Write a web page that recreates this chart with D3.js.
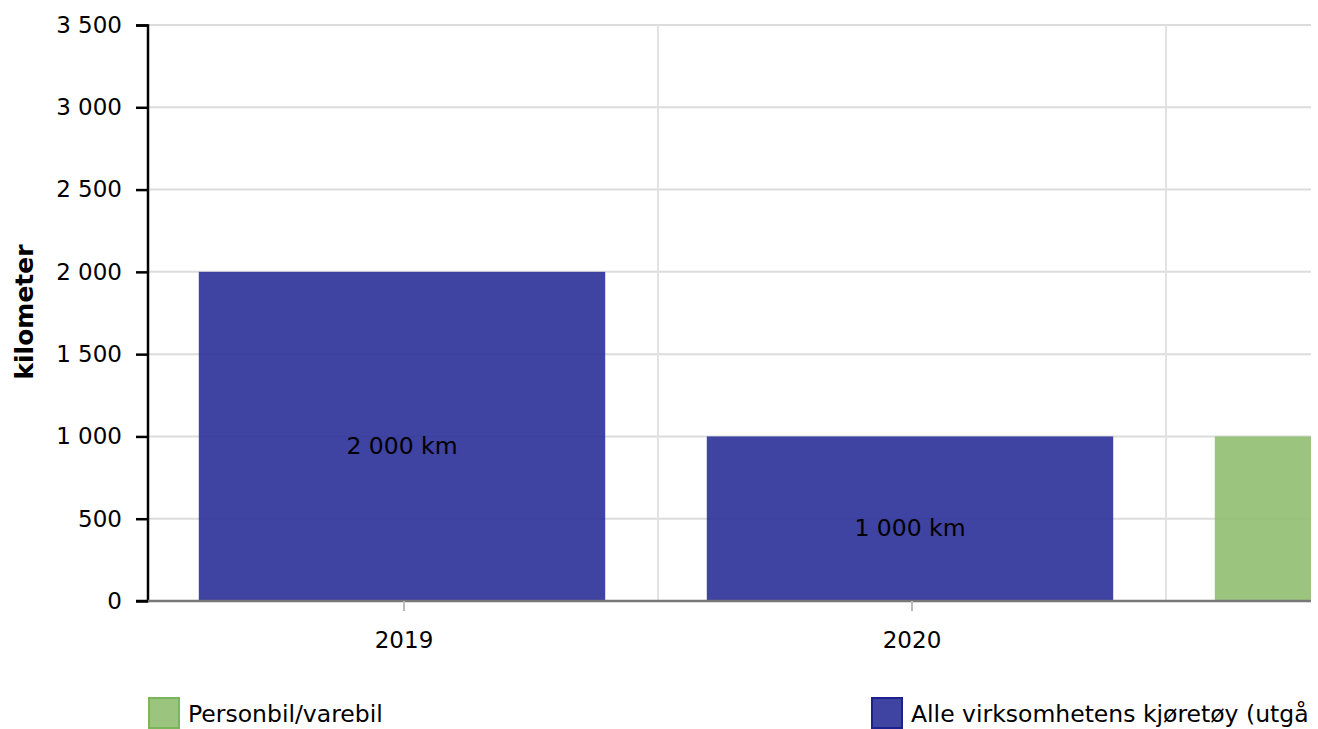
<!DOCTYPE html>
<html>
<head>
<meta charset="utf-8">
<script src="https://cdn.jsdelivr.net/npm/d3@7"></script>
<style>
  body { margin: 0; overflow: hidden; background: #fff; }
  text { font-family: "DejaVu Sans", Verdana, sans-serif; }
</style>
</head>
<body>
<div id="chart"></div>
<script>
// data
var years = ["2019", "2020", "2021"];
var personbil = [null, null, 1000];
var alleKjoretoy = [2000, 1000, null];
var seriesNames = ["Personbil/varebil", "Alle virksomhetens kjøretøy (utgå"];
var yTicks = [0, 500, 1000, 1500, 2000, 2500, 3000, 3500];

var svgWidth = 1318;
var svgHeight = 729;

var margin = { top: 25, left: 148 };
var plotRight = 1311;          // visible end of plot area
var fullWidth = 3 * 508;       // three categories, last one runs off screen
var height = 576;
var plotWidth = plotRight - margin.left;

var colors = { fill: ["#90be71", "#2a2f97"], stroke: ["#7ab55c", "#1c2190"] };

var fmt = function(v) { return d3.format(",")(v).replace(/,/g, " "); };

var svg = d3.select("#chart")
  .append("svg")
  .attr("width", svgWidth)
  .attr("height", svgHeight);

svg.append("defs").append("clipPath")
  .attr("id", "plotclip")
  .append("rect")
  .attr("x", 0).attr("y", -5)
  .attr("width", plotWidth).attr("height", height + 40);

var chartGroup = svg.append("g")
  .attr("transform", `translate(${margin.left}, ${margin.top})`);

var x = d3.scaleBand()
  .domain(years)
  .range([0, fullWidth])
  .paddingInner(0.2)
  .paddingOuter(0.1);

var y = d3.scaleLinear()
  .domain([0, 3500])
  .range([height, 0]);

var plot = chartGroup.append("g").attr("clip-path", "url(#plotclip)");

// horizontal grid
plot.selectAll(".hgrid")
  .data(yTicks.slice(1))
  .enter()
  .append("line")
  .attr("x1", 0).attr("x2", plotWidth)
  .attr("y1", d => y(d)).attr("y2", d => y(d))
  .attr("stroke", "#dcdcdc").attr("stroke-width", 2);

// vertical grid at category boundaries
plot.selectAll(".vgrid")
  .data(years.slice(1))
  .enter()
  .append("line")
  .attr("x1", d => x(d) - x.step() * 0.1 + 2).attr("x2", d => x(d) - x.step() * 0.1 + 2)
  .attr("y1", 0).attr("y2", height)
  .attr("stroke", "#e2e2e2").attr("stroke-width", 2);

// bars
var allSeries = [personbil, alleKjoretoy];
allSeries.forEach(function(vals, si) {
  var rows = years.map((yr, i) => ({ year: yr, value: vals[i] })).filter(d => d.value != null);
  plot.selectAll(".bar" + si)
    .data(rows)
    .enter()
    .append("rect")
    .attr("x", d => x(d.year))
    .attr("y", d => y(d.value))
    .attr("width", x.bandwidth())
    .attr("height", d => height - y(d.value))
    .attr("fill", colors.fill[si])
    .attr("fill-opacity", 0.9);

  // labels only where the bar centre is on screen
  plot.selectAll(".lbl" + si)
    .data(rows.filter(d => x(d.year) + x.bandwidth() / 2 < plotWidth))
    .enter()
    .append("text")
    .attr("x", d => x(d.year) + x.bandwidth() / 2)
    .attr("y", d => (y(d.value) + height) / 2)
    .attr("dy", "0.74em")
    .attr("text-anchor", "middle")
    .attr("font-size", 23.5)
    .attr("fill", "#000")
    .text(d => fmt(d.value) + " km");
});

// y axis
var leftAxis = d3.axisLeft(y)
  .tickValues(yTicks)
  .tickFormat(fmt)
  .tickSize(12)
  .tickPadding(14);

var yAxis = chartGroup.append("g").call(leftAxis);
yAxis.select(".domain").attr("stroke", "#000").attr("stroke-width", 2.5)
  .attr("d", `M-12,0.5H0V${height}H-12`);
yAxis.selectAll(".tick line").attr("stroke", "#000").attr("stroke-width", 2.5);
yAxis.selectAll("text").attr("font-size", 23).attr("fill", "#000")
  .style("font-family", "DejaVu Sans, Verdana, sans-serif");

// x axis
var bottomAxis = d3.axisBottom(x)
  .tickValues(years.filter(d => x(d) + x.bandwidth() / 2 < plotWidth))
  .tickSize(10).tickPadding(21).tickSizeOuter(0)
  .offset(2);
var xAxis = chartGroup.append("g")
  .attr("transform", `translate(0, ${height})`)
  .call(bottomAxis);
xAxis.select(".domain").attr("stroke", "#777").attr("stroke-width", 2.5)
  .attr("d", `M0,0H${plotWidth}`);
xAxis.selectAll(".tick").attr("transform", d => `translate(${x(d) + x.bandwidth() / 2 + 2},0)`);
xAxis.selectAll(".tick line").attr("stroke", "#bbb").attr("stroke-width", 2);
xAxis.selectAll("text").attr("font-size", 23).attr("fill", "#000")
  .style("font-family", "DejaVu Sans, Verdana, sans-serif");

// y axis title
svg.append("text")
  .attr("transform", "rotate(-90)")
  .attr("x", -312)
  .attr("y", 33)
  .attr("text-anchor", "middle")
  .attr("font-size", 25)
  .attr("font-weight", "bold")
  .text("kilometer");

// legend
var legendX = [148, 871];
seriesNames.forEach(function(name, i) {
  var g = svg.append("g").attr("transform", `translate(${legendX[i]}, 697)`);
  g.append("rect")
    .attr("x", 1).attr("y", 1)
    .attr("width", 30).attr("height", 30)
    .attr("fill", colors.fill[i])
    .attr("fill-opacity", 0.9)
    .attr("stroke", colors.stroke[i])
    .attr("stroke-width", 2);
  g.append("text")
    .attr("x", 40)
    .attr("y", 25)
    .attr("font-size", 23.5)
    .attr("fill", "#000")
    .text(name);
});
</script>
</body>
</html>
